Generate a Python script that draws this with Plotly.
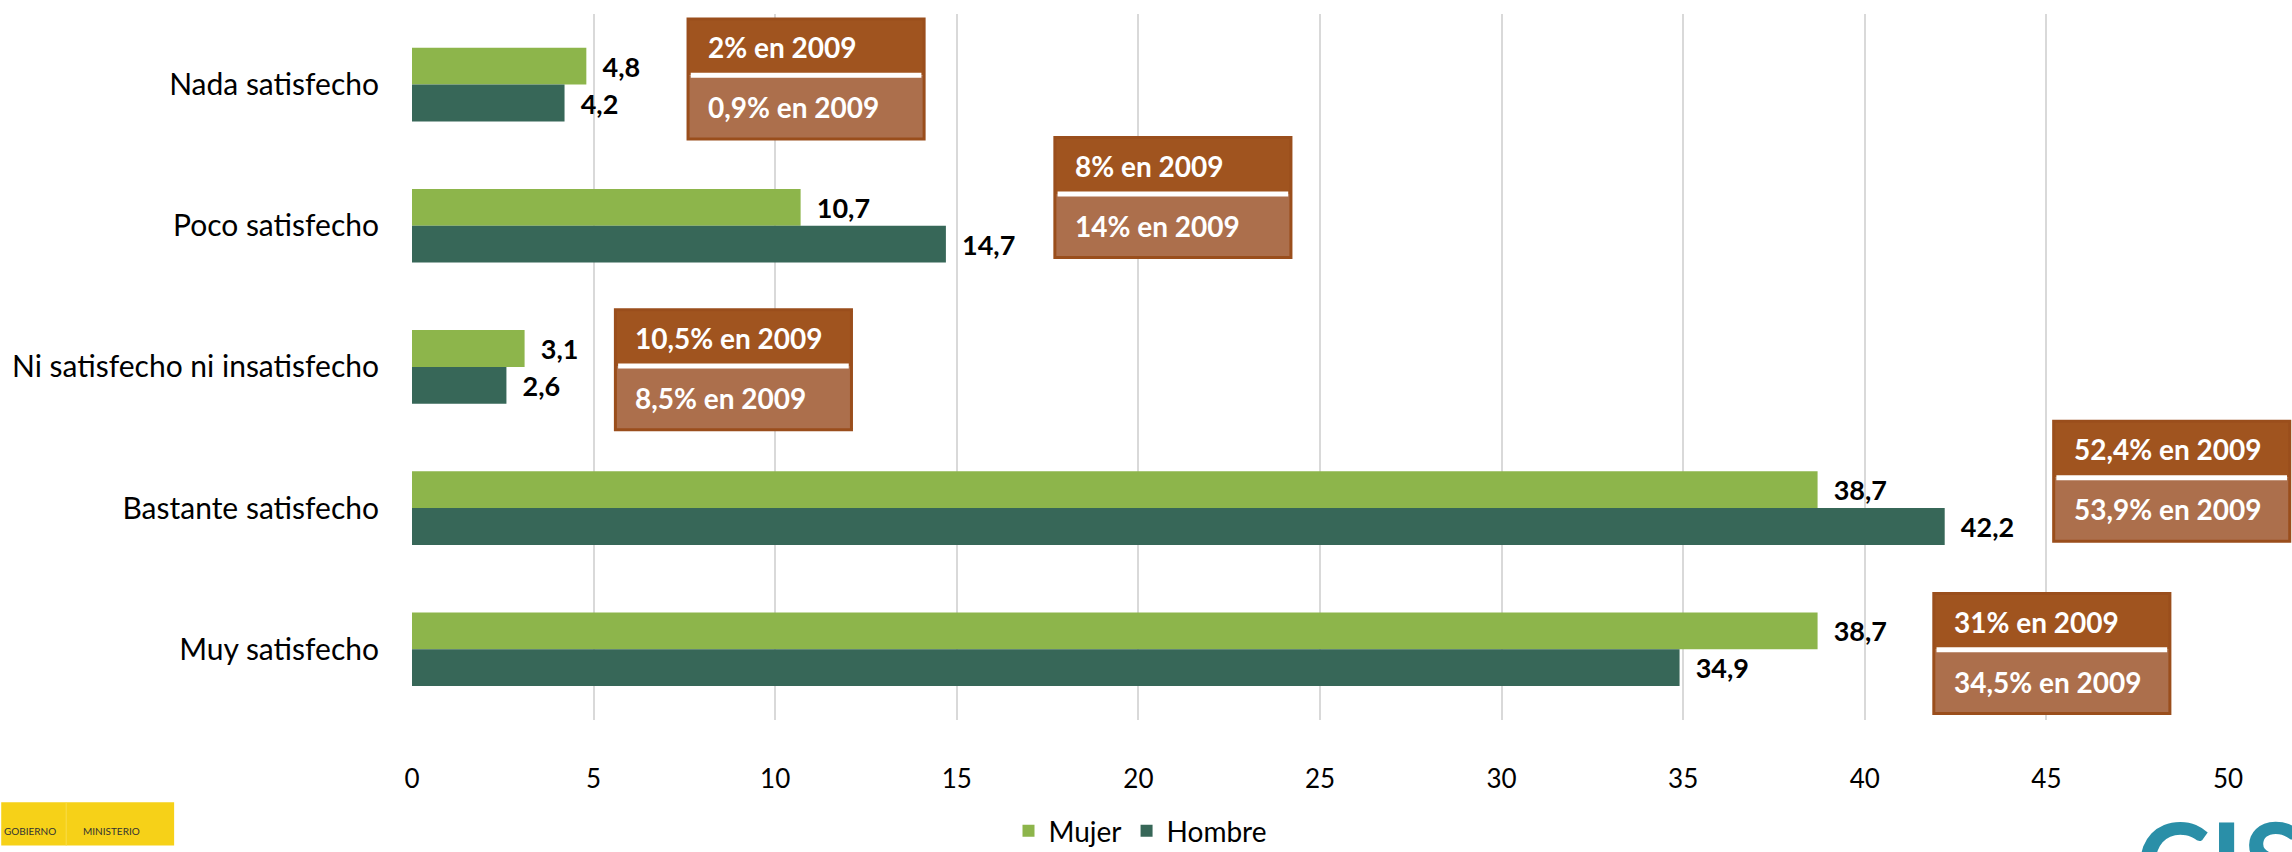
import plotly.graph_objects as go

# ---------------------------------------------------------------------------
# Data
# ---------------------------------------------------------------------------
categories = ["Nada satisfecho", "Poco satisfecho", "Ni satisfecho ni insatisfecho",
              "Bastante satisfecho", "Muy satisfecho"]
mujer = [4.8, 10.7, 3.1, 38.7, 38.7]
hombre = [4.2, 14.7, 2.6, 42.2, 34.9]

# 2009 comparison notes (top line = Mujer, bottom line = Hombre)
notes_mujer_2009 = ["2% en 2009", "8% en 2009", "10,5% en 2009", "52,4% en 2009", "31% en 2009"]
notes_hombre_2009 = ["0,9% en 2009", "14% en 2009", "8,5% en 2009", "53,9% en 2009", "34,5% en 2009"]

# note box placement: left edge (x units) and vertical shift (category units)
note_left = [7.6, 17.7, 5.6, 45.2, 41.9]
note_shift = [-0.04, -0.20, 0.02, -0.19, 0.03]
NOTE_W = 6.5
NOTE_H = 0.85
X_MAX = 50

# ---------------------------------------------------------------------------
# Style
# ---------------------------------------------------------------------------
GREEN_LIGHT = "#8db54b"
GREEN_DARK = "#376758"
BOX_TOP = "#a0541f"
BOX_BOTTOM = "#ac6f4c"
BOX_LINE = "#9a4e1c"
FONT = "Lato, 'Open Sans', sans-serif"

W, H = 2292, 852
M = dict(l=411, r=64, t=14, b=120)
N = len(categories)


def px_x(p):
    return (p - M["l"]) / (W - M["l"] - M["r"])


def px_y(p):
    return (H - M["b"] - p) / (H - M["t"] - M["b"])


def cat_y(c):
    # category index (0 at top) -> paper y
    return 1 - (c + 0.5) / N


fig = go.Figure()
for name, vals, col in [("Mujer", mujer, GREEN_LIGHT), ("Hombre", hombre, GREEN_DARK)]:
    fig.add_trace(go.Bar(
        y=categories, x=vals, name=name, orientation="h",
        marker=dict(color=col, line=dict(width=0)),
        texttemplate="\u00a0\u00a0%{x:.1f}", textposition="outside",
        textfont=dict(family=FONT, size=27, color="#000000", weight="bold"),
        cliponaxis=False,
    ))

shapes = []
annotations = []
for i in range(N):
    c = i + note_shift[i]
    y_top = cat_y(c - NOTE_H / 2)
    y_mid = cat_y(c - NOTE_H * 0.03)
    y_bot = cat_y(c + NOTE_H / 2)
    x0, x1 = note_left[i] / X_MAX, (note_left[i] + NOTE_W) / X_MAX
    box = dict(xref="paper", yref="paper", layer="above")
    shapes.append(dict(type="rect", x0=x0, x1=x1, y0=y_mid, y1=y_top,
                       fillcolor=BOX_TOP, line=dict(width=0), **box))
    shapes.append(dict(type="rect", x0=x0, x1=x1, y0=y_bot, y1=y_mid,
                       fillcolor=BOX_BOTTOM, line=dict(width=0), **box))
    shapes.append(dict(type="rect", x0=x0, x1=x1, y0=y_bot, y1=y_top,
                       fillcolor="rgba(0,0,0,0)", line=dict(color=BOX_LINE, width=3), **box))
    shapes.append(dict(type="line", x0=x0 + 0.0015, x1=x1 - 0.0015, y0=y_mid, y1=y_mid,
                       line=dict(color="#ffffff", width=5), **box))
    for txt, yy in [(notes_mujer_2009[i], (y_top + y_mid) / 2), (notes_hombre_2009[i], (y_mid + y_bot) / 2)]:
        annotations.append(dict(text=txt, xref="paper", yref="paper", x=x0, y=yy, xanchor="left",
                                yanchor="middle", xshift=18, showarrow=False,
                                font=dict(family=FONT, size=28, color="#ffffff", weight="bold")))

# logos (approximate)
shapes.append(dict(type="rect", xref="paper", yref="paper", x0=px_x(0), x1=px_x(173),
                   y0=px_y(816), y1=px_y(860), fillcolor="#f6d118", line=dict(width=0)))
shapes.append(dict(type="line", xref="paper", yref="paper", x0=px_x(65), x1=px_x(65),
                   y0=px_y(816), y1=px_y(860), line=dict(color="#f9dc4a", width=1)))
for txt, xp in [("GOBIERNO", 1), ("MINISTERIO", 80)]:
    annotations.append(dict(text=txt, xref="paper", yref="paper", x=px_x(xp), y=px_y(845),
                            xanchor="left", yanchor="middle", showarrow=False,
                            font=dict(family=FONT, size=10, color="#333333")))
annotations.append(dict(text="CIS", xref="paper", yref="paper", x=px_x(2134), y=px_y(803),
                        xanchor="left", yanchor="top", showarrow=False,
                        font=dict(family=FONT, size=112, color="#2a8fa8", weight="bold")))

fig.update_layout(
    width=W, height=H,
    margin=M,
    paper_bgcolor="#ffffff", plot_bgcolor="#ffffff",
    font=dict(family=FONT, size=25, color="#000000"),
    separators=",.",
    barmode="group", bargap=0.478, bargroupgap=0,
    showlegend=True,
    legend=dict(orientation="h", xref="container", yref="container",
                x=1140 / W, xanchor="center", y=1 - 831 / H, yanchor="middle",
                font=dict(family=FONT, size=28, color="#000000"), traceorder="normal",
                itemwidth=30, bgcolor="rgba(0,0,0,0)"),
    shapes=shapes,
    annotations=annotations,
)
fig.update_xaxes(range=[0, X_MAX], dtick=5, showgrid=True, gridcolor="#d9d9d9", gridwidth=1.5,
                 zeroline=False, showline=False, ticks="outside", ticklen=36,
                 tickcolor="rgba(0,0,0,0)", tickfont=dict(family=FONT, size=26, color="#000000"))
fig.update_yaxes(autorange="reversed", showgrid=False, showline=False, ticks="outside",
                 ticklen=26, tickcolor="rgba(0,0,0,0)",
                 tickfont=dict(family=FONT, size=30, color="#000000"))

# body margin would shift the fixed-size figure by 8 px
fig.write_html("out.html", config={"displayModeBar": False},
               post_script="document.body.style.margin='0';")
